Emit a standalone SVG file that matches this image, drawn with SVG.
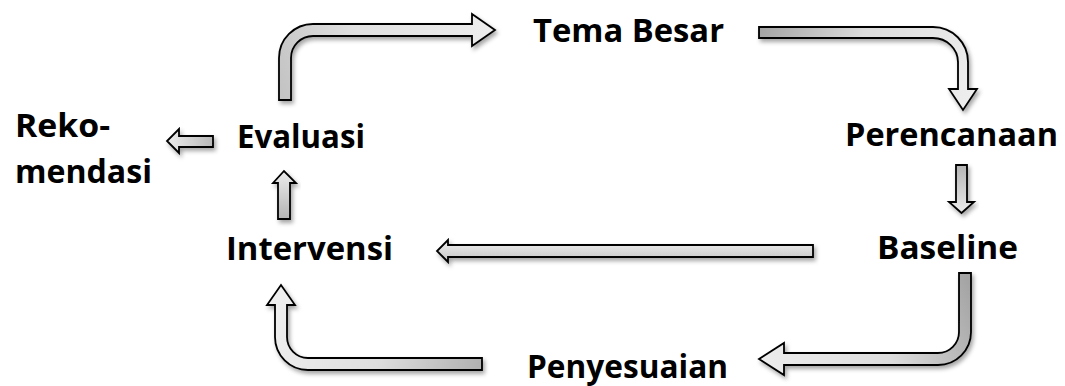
<svg xmlns="http://www.w3.org/2000/svg" width="1065" height="386" viewBox="0 0 1065 386">
<style>
.lbl{font-family:"Open Sans","Noto Sans","Liberation Sans",sans-serif;font-weight:700;font-size:32px;fill:#000;}
.arr{stroke:#000;stroke-width:1.8;stroke-linejoin:miter;filter:url(#sh);}
</style>
<defs>
<filter id="sh" x="-20%" y="-20%" width="140%" height="160%">
<feDropShadow dx="2" dy="3" stdDeviation="2" flood-color="#000" flood-opacity="0.35"/>
</filter>
<linearGradient id="g1" gradientUnits="userSpaceOnUse" x1="285" y1="100" x2="495" y2="30">
<stop offset="0" stop-color="#c4c4c4"/><stop offset="0.4" stop-color="#e0e0e0"/><stop offset="1" stop-color="#ededed"/>
</linearGradient>
<linearGradient id="g2" gradientUnits="userSpaceOnUse" x1="759" y1="32" x2="963" y2="110">
<stop offset="0" stop-color="#a4a4a4"/><stop offset="0.45" stop-color="#dcdcdc"/><stop offset="1" stop-color="#ededed"/>
</linearGradient>
<linearGradient id="g3" gradientUnits="userSpaceOnUse" x1="0" y1="165" x2="0" y2="213">
<stop offset="0" stop-color="#b4b4b4"/><stop offset="1" stop-color="#ececec"/>
</linearGradient>
<linearGradient id="g4" gradientUnits="userSpaceOnUse" x1="965" y1="273" x2="759" y2="359">
<stop offset="0" stop-color="#a4a4a4"/><stop offset="0.45" stop-color="#dcdcdc"/><stop offset="1" stop-color="#ededed"/>
</linearGradient>
<linearGradient id="g5" gradientUnits="userSpaceOnUse" x1="482" y1="364" x2="281" y2="285">
<stop offset="0" stop-color="#b0b0b0"/><stop offset="0.45" stop-color="#dedede"/><stop offset="1" stop-color="#efefef"/>
</linearGradient>
<linearGradient id="g6" gradientUnits="userSpaceOnUse" x1="0" y1="245" x2="0" y2="257">
<stop offset="0" stop-color="#e6e6e6"/><stop offset="1" stop-color="#cdcdcd"/>
</linearGradient>
<linearGradient id="g7" gradientUnits="userSpaceOnUse" x1="213" y1="0" x2="167" y2="0">
<stop offset="0" stop-color="#b8b8b8"/><stop offset="1" stop-color="#ececec"/>
</linearGradient>
<linearGradient id="g8" gradientUnits="userSpaceOnUse" x1="0" y1="219" x2="0" y2="171">
<stop offset="0" stop-color="#b4b4b4"/><stop offset="1" stop-color="#ececec"/>
</linearGradient>
</defs>
<rect width="1065" height="386" fill="#fff"/>
<g id="connectors">
<path id="c-eval-tema" class="arr" fill="url(#g1)" d="M279,100 V58 A34,34 0 0 1 313,24 H472 V14 L495,30 L472,46 V36 H313 A22,22 0 0 0 291,58 V100 Z"/>
<path id="c-tema-peren" class="arr" fill="url(#g2)" d="M759,27 H933 A35,35 0 0 1 968,62 V89 H977 L963,110 L949,89 H958 V62 A25,24 0 0 0 933,38 H759 Z"/>
<path id="c-peren-base" class="arr" fill="url(#g3)" d="M956,165 H967 V202 H974 L961.5,213 L949,202 H956 Z"/>
<path id="c-base-peny" class="arr" fill="url(#g4)" d="M959,273 H971 V332 A33,33 0 0 1 938,365 H784 V375 L759,359 L784,343 V353 H938 A21,21 0 0 0 959,332 Z"/>
<path id="c-peny-inter" class="arr" fill="url(#g5)" d="M482,358 V370 H308 A33,33 0 0 1 275,337 V305 H267 L281,285 L295,305 H287 V337 A21,21 0 0 0 308,358 Z"/>
<path id="c-base-inter" class="arr" fill="url(#g6)" d="M813,245 V257 H448 V262 L437,251 L448,240 V245 Z"/>
<path id="c-eval-reko" class="arr" fill="url(#g7)" d="M213,136 V147 H179 V153 L167,141 L179,129 V136 Z"/>
<path id="c-inter-eval" class="arr" fill="url(#g8)" d="M278,219 V183 H273 L284,171 L296,183 H290 V219 Z"/>
</g>
<g id="node-tema"><text class="lbl" x="533" y="42" textLength="191" lengthAdjust="spacingAndGlyphs">Tema Besar</text></g>
<g id="node-perencanaan"><text class="lbl" x="845" y="146" textLength="213" lengthAdjust="spacingAndGlyphs">Perencanaan</text></g>
<g id="node-baseline"><text class="lbl" x="877" y="259" textLength="141" lengthAdjust="spacingAndGlyphs">Baseline</text></g>
<g id="node-penyesuaian"><text class="lbl" x="527" y="378" textLength="201" lengthAdjust="spacingAndGlyphs">Penyesuaian</text></g>
<g id="node-intervensi"><text class="lbl" x="226" y="260" textLength="167" lengthAdjust="spacingAndGlyphs">Intervensi</text></g>
<g id="node-evaluasi"><text class="lbl" x="237" y="148" textLength="128" lengthAdjust="spacingAndGlyphs">Evaluasi</text></g>
<g id="node-rekomendasi">
<text class="lbl" x="15" y="137" textLength="95" lengthAdjust="spacingAndGlyphs">Reko-</text>
<text class="lbl" x="15" y="183" textLength="137" lengthAdjust="spacingAndGlyphs">mendasi</text>
</g>
</svg>
